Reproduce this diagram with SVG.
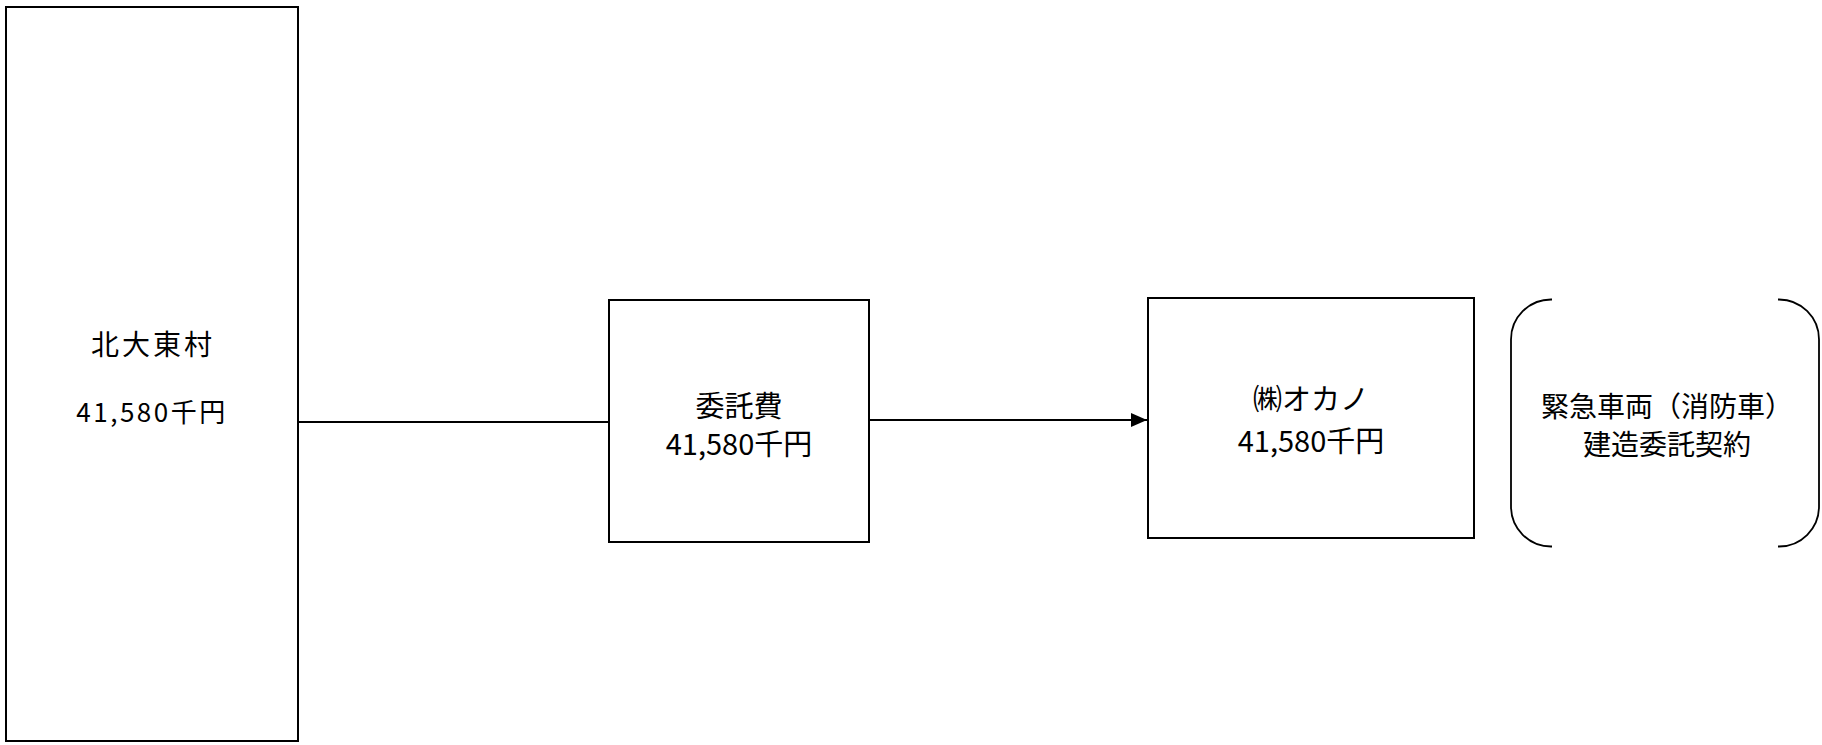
<svg xmlns="http://www.w3.org/2000/svg" width="1822" height="745" viewBox="0 0 1822 745">
<defs>
<style>
.box{fill:#fff;stroke:#000;stroke-width:2}
.t{font-family:"Noto Sans CJK JP","Noto Sans",sans-serif;font-size:29px;fill:#000;text-anchor:middle;dominant-baseline:central}
.w{font-size:28px;letter-spacing:3px}
.n{font-size:26px;letter-spacing:2.5px}
.b{font-size:28px}
.c{fill:none;stroke:#000;stroke-width:1.8}
</style>
<marker id="ah" markerWidth="16" markerHeight="14" refX="16" refY="7" orient="auto" markerUnits="userSpaceOnUse">
<path d="M0,0 L16,7 L0,14 Z" fill="#000"/>
</marker>
</defs>
<rect width="1822" height="745" fill="#fff"/>
<g id="connectors">
<line class="c" x1="298" y1="422" x2="609" y2="422"/>
<line class="c" x1="869" y1="420" x2="1147" y2="420" marker-end="url(#ah)"/>
</g>
<g id="kitadaito">
<rect class="box" x="6" y="7" width="292" height="734"/>
<text class="t w" x="153" y="343">北大東村</text>
<text class="t n" x="152" y="410">41,580千円</text>
</g>
<g id="itakuhi">
<rect class="box" x="609" y="300" width="260" height="242"/>
<text class="t" x="739" y="404">委託費</text>
<text class="t" x="739" y="442">41,580千円</text>
</g>
<g id="okano">
<rect class="box" x="1148" y="298" width="326" height="240"/>
<text class="t" x="1311" y="397">㈱オカノ</text>
<text class="t" x="1311" y="439">41,580千円</text>
</g>
<g id="contract">
<path class="c" d="M1552,299.5 H1551 A40,40 0 0 0 1511,339.5 V506.5 A40,40 0 0 0 1551,546.5 H1552"/>
<path class="c" d="M1778,299.5 H1779 A40,40 0 0 1 1819,339.5 V506.5 A40,40 0 0 1 1779,546.5 H1778"/>
<text class="t b" x="1667" y="405">緊急車両（消防車）</text>
<text class="t b" x="1667" y="443">建造委託契約</text>
</g>
</svg>
